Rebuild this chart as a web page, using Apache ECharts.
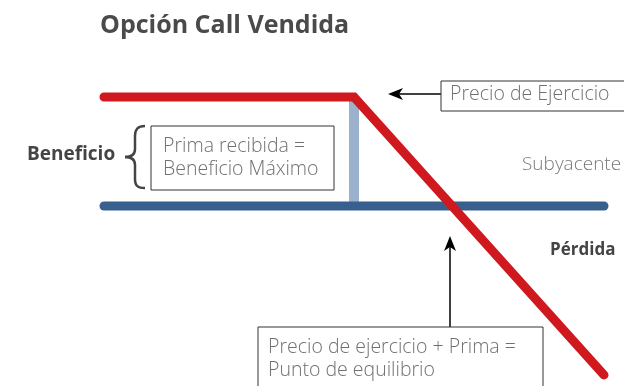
<!DOCTYPE html>
<html>
<head>
<meta charset="utf-8">
<script src="https://cdn.jsdelivr.net/npm/echarts@6/dist/echarts.min.js"></script>
<style>
  html,body{margin:0;padding:0;background:#fff;}
  #box{width:624px;height:386px;}
</style>
</head>
<body>
<div id="box"></div>
<script>
// underlying price axis 0..100, strike at 50, premium 20
var precio=[0,50,100]
var beneficio=[20,20,-31]
var subyacente=[[0,0],[100,0]]
var prima=[[50,20],[50,0]]

var font='"Open Sans", sans-serif'

function pares(xs,ys){
  var out=[]
  for(var i=0;i<xs.length;i++){ out.push([xs[i],ys[i]]) }
  return out
}

function caja(x,y,w,h,lineas,tx,ty){
  return [{
    type:'rect',
    shape:{x:x,y:y,width:w,height:h},
    style:{fill:'#fff',stroke:'#333',lineWidth:1},
    z:10
  },{
    type:'text',
    x:tx,y:ty,
    style:{text:lineas.join('\n'),font:'300 19.5px '+font,fill:'#707070',lineHeight:23,verticalAlign:'top'},
    z:11
  }]
}

function curva(x1,y1,c1x,c1y,c2x,c2y,x2,y2){
  return {
    type:'bezierCurve',
    shape:{x1:x1,y1:y1,cpx1:c1x,cpy1:c1y,cpx2:c2x,cpy2:c2y,x2:x2,y2:y2},
    style:{fill:null,stroke:'#444',lineWidth:2.5}
  }
}
function recta(x1,y1,x2,y2,w){
  return {type:'line',shape:{x1:x1,y1:y1,x2:x2,y2:y2},style:{stroke:'#444',lineWidth:w||2.5}}
}

var mychart=echarts.init(document.getElementById('box'))

var option={
  animation:false,
  title:{
    text:'Opción Call Vendida',
    left:95,
    top:8,
    textStyle:{fontFamily:font,fontSize:25,fontWeight:'bold',color:'#4a4a4a'}
  },
  grid:{left:104,right:20,top:97,bottom:11},
  xAxis:{type:'value',min:0,max:100,show:false},
  yAxis:{type:'value',min:-31,max:20,show:false},
  series:[{
    type:'line',
    data:prima,
    symbol:'none',
    clip:false,
    z:1,
    lineStyle:{color:'#9cb1cc',width:10}
  },{
    type:'line',
    data:subyacente,
    symbol:'none',
    clip:false,
    z:2,
    lineStyle:{color:'#37608f',width:9,cap:'round'}
  },{
    type:'line',
    data:pares(precio,beneficio),
    symbol:'none',
    clip:false,
    z:3,
    lineStyle:{color:'#d0191e',width:9,cap:'round',join:'miter'}
  }],
  graphic:[].concat(
    caja(151,126,183,64,['Prima recibida =','Beneficio Máximo'],163,135),
    caja(441,81,185,30,['Precio de Ejercicio'],450,83),
    caja(258,327,285,70,['Precio de ejercicio + Prima =','Punto de equilibrio'],268,336),
    [{
      type:'text',x:27,y:145,
      style:{text:'Beneficio',font:'bold 19px '+font,fill:'#444'}
    },
    curva(145,126,138,126,135,129,135,136),
    recta(135,136,135,149),
    curva(135,149,135,154,132,157,125,157),
    curva(125,157,132,157,135,160,135,165),
    recta(135,165,135,179),
    curva(135,179,135,186,138,188,145,188),
    {
      type:'text',x:522,y:155,
      style:{text:'Subyacente',font:'300 19px '+font,fill:'#7a7a7a'}
    },{
      type:'text',x:550,y:242,
      style:{text:'Pérdida',font:'bold 17px '+font,fill:'#444'}
    },{
      type:'line',
      shape:{x1:441,y1:94,x2:398,y2:94},
      style:{stroke:'#000',lineWidth:1.5}
    },{
      type:'polygon',
      shape:{points:[[388,94],[403,88],[399,94],[403,100]]},
      style:{fill:'#000'}
    },{
      type:'line',
      shape:{x1:450,y1:327,x2:450,y2:245},
      style:{stroke:'#000',lineWidth:1.5}
    },{
      type:'polygon',
      shape:{points:[[450,236],[456,251],[450,247],[444,251]]},
      style:{fill:'#000'}
    }]
  )
}

mychart.setOption(option)
</script>
</body>
</html>
